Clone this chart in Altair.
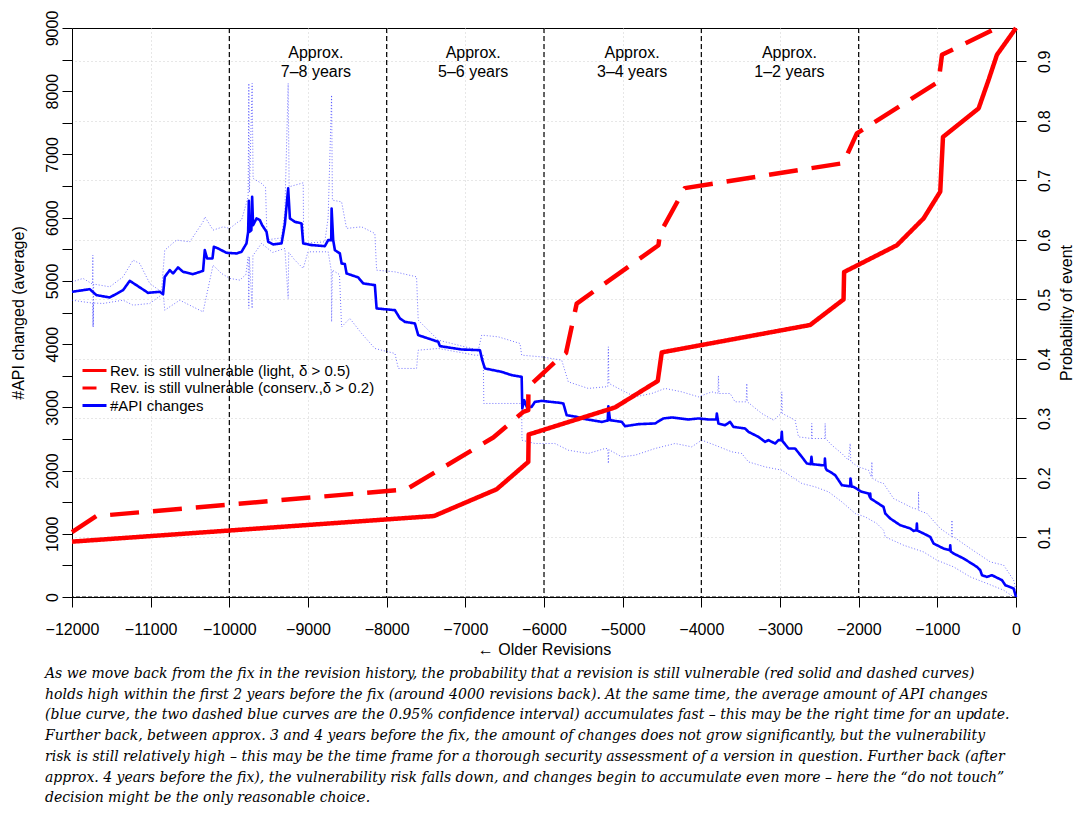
import altair as alt
import pandas as pd

# ---------------- data ----------------
# average #API changes (blue solid)
api_x = [-12000, -11775, -11690, -11520, -11351, -11266, -11117, -11033, -10884, -10842,
         -10821, -10757, -10715, -10652, -10588, -10461, -10334, -10312, -10283, -10214,
         -10197, -10143, -10036, -9909, -9845, -9782, -9761, -9752, -9745, -9720,
         -9710, -9698, -9654, -9612, -9583, -9527, -9506, -9443, -9336, -9294,
         -9252, -9230, -9167, -9082, -9061, -8955, -8786, -8744, -8705, -8700,
         -8680, -8658, -8595, -8573, -8531, -8510, -8362, -8298, -8150, -8128,
         -7895, -7831, -7768, -7641, -7599, -7471, -7344, -7323, -7047, -6814,
         -6785, -6751, -6538, -6411, -6284, -6276, -6251, -6220, -6157, -6115,
         -6030, -5797, -5754, -5712, -5584, -5521, -5267, -5190, -5182, -5161,
         -5012, -4970, -4800, -4588, -4482, -4376, -4164, -4037, -3910, -3810,
         -3803, -3783, -3698, -3634, -3592, -3443, -3401, -3274, -3189, -3147,
         -3062, -3020, -2985, -2977, -2970, -2892, -2808, -2723, -2659, -2610,
         -2600, -2590, -2468, -2432, -2429, -2420, -2405, -2362, -2298, -2214,
         -2130, -2108, -2104, -2090, -2066, -1960, -1875, -1858, -1853, -1848,
         -1684, -1662, -1599, -1472, -1344, -1302, -1265, -1260, -1255, -1217,
         -1090, -1048, -921, -840, -836, -830, -793, -666, -496, -454,
         -433, -369, -306, -178, -136, -30, 0]
api_y = [4827, 4869, 4775, 4738, 4853, 5001, 4880, 4811, 4827, 4790,
         5064, 5170, 5118, 5213, 5143, 5107, 5159, 5486, 5355, 5355,
         5539, 5513, 5444, 5434, 5460, 5593, 5776, 6267, 5776, 5800,
         6330, 5882, 5988, 5961, 5882, 5776, 5618, 5577, 5593, 5898,
         6463, 5988, 5934, 5909, 5593, 5566, 5550, 5645, 5645, 6146,
         5645, 5486, 5434, 5276, 5265, 5118, 5055, 4960, 4933, 4564,
         4537, 4406, 4352, 4327, 4142, 4089, 4036, 3968, 3915, 3904,
         3746, 3615, 3561, 3509, 3482, 2982, 3113, 3008, 3008, 3087,
         3102, 3071, 3061, 2876, 2849, 2824, 2770, 2790, 3018, 2797,
         2770, 2702, 2734, 2745, 2824, 2840, 2808, 2824, 2808, 2808,
         2903, 2745, 2718, 2770, 2691, 2665, 2612, 2533, 2454, 2481,
         2428, 2481, 2481, 2612, 2470, 2349, 2349, 2217, 2112, 2101,
         2217, 2101, 2085, 2085, 2190, 2040, 2006, 1979, 1927, 1769,
         1753, 1753, 1875, 1745, 1742, 1663, 1637, 1580, 1637, 1558,
         1425, 1321, 1242, 1136, 1084, 1046, 1057, 1163, 1050, 1030,
         951, 846, 767, 740, 819, 720, 688, 609, 476, 424,
         345, 318, 345, 266, 187, 134, 0]

# upper confidence bound (blue dotted)
up_x = [-12000, -11860, -11740, -11735, -11730, -11725, -11520, -11351, -11224, -11139,
        -11012, -10863, -10821, -10672, -10503, -10334, -10310, -10207, -10079, -9994,
        -9888, -9845, -9761, -9752, -9745, -9710, -9698, -9591, -9540, -9520,
        -9336, -9294, -9252, -9240, -9061, -9055, -8786, -8744, -8700, -8690,
        -8573, -8510, -8319, -8150, -8128, -7895, -7620, -7599, -7344, -6835,
        -6792, -6581, -6305, -6284, -6030, -5775, -5691, -5437, -5224, -5190,
        -5182, -5175, -5012, -4842, -4630, -4461, -4249, -4037, -3867, -3790,
        -3783, -3775, -3634, -3571, -3430, -3422, -3415, -3232, -3083, -2985,
        -2977, -2970, -2808, -2765, -2600, -2596, -2590, -2430, -2426, -2420,
        -2341, -2214, -2130, -2108, -2100, -2002, -1875, -1840, -1832, -1825,
        -1747, -1684, -1556, -1302, -1240, -1239, -1235, -1132, -963, -820,
        -814, -808, -793, -581, -454, -327, -157, -30, 0]
up_y = [4985, 5039, 4950, 5407, 4273, 4950, 4906, 5064, 5328, 5276,
        4960, 4827, 5486, 5645, 5618, 5934, 6013, 5803, 5855, 5830,
        5934, 5961, 6330, 8124, 6400, 8124, 6621, 6542, 6480, 5650,
        5680, 6100, 8124, 6488, 6551, 5593, 5618, 6000, 7939, 6277,
        6250, 5830, 5855, 5750, 5170, 5143, 5064, 4379, 4063, 3904,
        4142, 4115, 4010, 3825, 3798, 3746, 3403, 3299, 3324, 3324,
        3957, 3378, 3272, 3166, 3219, 3299, 3245, 3166, 3245, 3219,
        3500, 3219, 3219, 3087, 3087, 3378, 3087, 2903, 2797, 2903,
        3245, 2903, 2797, 2533, 2507, 2745, 2507, 2507, 2745, 2507,
        2401, 2270, 2164, 2428, 2140, 2058, 2006, 1900, 2137, 1880,
        1821, 1796, 1558, 1400, 1390, 1663, 1370, 1321, 1084, 960,
        1215, 950, 951, 767, 661, 555, 503, 266, 108]

# lower confidence bound (blue dotted)
lo_x = [-12000, -11860, -11740, -11733, -11726, -11605, -11351, -11224, -11012, -10840,
        -10821, -10630, -10461, -10334, -10207, -10100, -9994, -9867, -9790, -9761,
        -9752, -9745, -9710, -9700, -9591, -9450, -9294, -9252, -9245, -9167,
        -9061, -9000, -8744, -8705, -8700, -8690, -8600, -8573, -8468, -8319,
        -8150, -7895, -7852, -7620, -7599, -7344, -6878, -6772, -6765, -6284,
        -6280, -6115, -5861, -5691, -5437, -5224, -5190, -5182, -5175, -5012,
        -4842, -4588, -4334, -4122, -3995, -3825, -3613, -3486, -3401, -3189,
        -2977, -2723, -2553, -2383, -2214, -2044, -1917, -1769, -1684, -1662,
        -1429, -1175, -1005, -793, -581, -369, -157, -30]
lo_y = [4695, 4669, 4650, 4273, 4650, 4643, 4695, 4616, 4643, 4800,
        4537, 4695, 4589, 4510, 5249, 5118, 5039, 5012, 5100, 5380,
        4564, 5380, 4564, 5400, 5593, 5450, 5513, 4722, 5450, 5328,
        5197, 5460, 5460, 5170, 4352, 5170, 5100, 4273, 4406, 4169,
        3931, 3852, 3615, 3615, 3904, 3931, 3825, 3825, 3061, 3061,
        2480, 2428, 2428, 2322, 2270, 2349, 2349, 2112, 2330, 2217,
        2243, 2349, 2428, 2375, 2481, 2401, 2296, 2270, 2137, 2058,
        2006, 1796, 1742, 1663, 1505, 1321, 1267, 1163, 1057, 951,
        819, 713, 582, 476, 318, 214, 108, 0]

# probability a revision is still vulnerable (right axis)
light_x = [-12000, -7399, -6602, -6200, -6195, -5097, -4554, -4503, -2617, -2192,
           -2185, -1514, -1175, -963, -928, -475, -348, -242, 0]
light_p = [0.093, 0.136, 0.181, 0.227, 0.273, 0.3185, 0.363, 0.411, 0.457, 0.500,
           0.546, 0.591, 0.636, 0.681, 0.773, 0.821, 0.869, 0.911, 0.956]
cons_x = [-12000, -11690, -7746, -6645, -6263, -6200, -6198, -5818, -5720, -5584,
          -4545, -4525, -4210, -2192, -2130, -2023, -984, -941, -242]
cons_p = [0.109, 0.136, 0.181, 0.268, 0.311, 0.314, 0.353, 0.400, 0.410, 0.493,
          0.591, 0.611, 0.687, 0.729, 0.748, 0.779, 0.866, 0.911, 0.956]

series_names = ["Rev. is still vulnerable (light, δ > 0.5)",
                "Rev. is still vulnerable (conserv.,δ > 0.2)",
                "#API changes"]
series_colors = ["#ff0000", "#ff0000", "#0000ff"]

year_x = [-10000, -8000, -6000, -4000, -2000]
ann_x = [-8900, -6900, -4880, -2880]
ann_y = [8727, 8727, 8727, 8727]
ann_text = ["Approx.\n7–8 years", "Approx.\n5–6 years", "Approx.\n3–4 years", "Approx.\n1–2 years"]

x_ticks = list(range(-12000, 1, 1000))
left_ticks = list(range(0, 9001, 500))
right_ticks = [0.1, 0.2, 0.3, 0.4, 0.5, 0.6, 0.7, 0.8, 0.9]

caption_lines = [
    "As we move back from the fix in the revision history, the probability that a revision is still vulnerable (red solid and dashed curves)",
    "holds high within the first 2 years before the fix (around 4000 revisions back). At the same time, the average amount of API changes",
    "(blue curve, the two dashed blue curves are the 0.95% confidence interval) accumulates fast – this may be the right time for an update.",
    "Further back, between approx. 3 and 4 years before the fix, the amount of changes does not grow significantly, but the vulnerability",
    "risk is still relatively high – this may be the time frame for a thorough security assessment of a version in question. Further back (after",
    "approx. 4 years before the fix), the vulnerability risk falls down, and changes begin to accumulate even more – here the “do not touch”",
    "decision might be the only reasonable choice.",
]

# ---------------- tables ----------------
main_df = pd.DataFrame({"x": api_x, "y": api_y, "series": series_names[2], "i": range(len(api_x))})
ci_df = pd.concat([
    pd.DataFrame({"x": up_x, "y": up_y, "band": "upper", "i": range(len(up_x))}),
    pd.DataFrame({"x": lo_x, "y": lo_y, "band": "lower", "i": range(len(lo_x))}),
])
red_df = pd.concat([
    pd.DataFrame({"x": light_x, "p": light_p, "series": series_names[0], "i": range(len(light_x))}),
    pd.DataFrame({"x": cons_x, "p": cons_p, "series": series_names[1], "i": range(len(cons_x))}),
])
year_df = pd.DataFrame({"x": year_x})
zero_df = pd.DataFrame({"y": [0]})
ann_df = pd.DataFrame({"x": ann_x, "y": ann_y, "t": ann_text})

FONT = "Liberation Sans"

x_scale = alt.Scale(domain=[-12000, 0], nice=False, zero=False)
left_scale = alt.Scale(domain=[0, 9000], nice=False)
right_scale = alt.Scale(domain=[0, 0.956], nice=False)

x_axis = alt.Axis(title="← Older Revisions", values=x_ticks, format="d",
                  domain=False, tickSize=10, tickColor="black", labelFontSize=16,
                  labelColor="black", labelPadding=14, titleFontSize=16,
                  titleFontWeight="normal", titleColor="black", titlePadding=4,
                  grid=True, gridColor="#cfcfcf", gridDash=[1, 3], labelFont=FONT,
                  titleFont=FONT, labelFlush=False)
left_axis = alt.Axis(title="#API changed (average)", values=left_ticks, format="d",
                     labelExpr="datum.value % 1000 == 0 ? datum.label : ''",
                     labelAngle=270, labelAlign="center", labelBaseline="bottom",
                     labelPadding=2, tickSize=10, tickColor="black", domainColor="black",
                     grid=False, labelFontSize=16, labelColor="black", titleFontSize=16,
                     titleFontWeight="normal", titleColor="black", titlePadding=18,
                     labelFont=FONT, titleFont=FONT, labelFlush=False)
right_axis = alt.Axis(title="Probability of event", orient="right", values=right_ticks,
                      format=".1f", labelAngle=270, labelAlign="center", labelBaseline="top",
                      labelPadding=10, tickSize=10, tickColor="black", domainColor="black",
                      grid=True, gridColor="#cfcfcf", gridDash=[1, 3],
                      labelFontSize=16, labelColor="black", titleFontSize=16,
                      titleFontWeight="normal", titleColor="black", titleAngle=270,
                      titleBaseline="top", titlePadding=6, labelFont=FONT, titleFont=FONT,
                      labelFlush=False)

color_scale = alt.Scale(domain=series_names, range=series_colors)
dash_scale = alt.Scale(domain=series_names, range=[[1, 0], [29, 14], [1, 0]])
legend = alt.Legend(title=None, orient="none", legendX=15, legendY=335,
                    symbolType="M-2,0L2,0", symbolSize=144, symbolStrokeWidth=3,
                    symbolDashOffset=15,
                    labelFontSize=15, labelFont=FONT, labelColor="black",
                    rowPadding=1.5, labelOffset=8, padding=0, labelLimit=0)

X = alt.X("x:Q", scale=x_scale, axis=x_axis)

years = alt.Chart(year_df).mark_rule(color="black", strokeDash=[5, 3], strokeWidth=1.2).encode(x=X)
zero = alt.Chart(zero_df).mark_rule(color="black", strokeDash=[4, 2], strokeWidth=1).encode(
    y=alt.Y("y:Q", scale=left_scale, axis=left_axis))
ci = alt.Chart(ci_df).mark_line(color="#0000ff", opacity=0.55, strokeWidth=1,
                                strokeDash=[1, 2], interpolate="linear").encode(
    x=X, y=alt.Y("y:Q", scale=left_scale, axis=left_axis), detail="band:N", order="i:Q")
main = alt.Chart(main_df).mark_line(strokeWidth=2.6, strokeJoin="round").encode(
    x=X, y=alt.Y("y:Q", scale=left_scale, axis=left_axis),
    color=alt.Color("series:N", scale=color_scale, legend=legend),
    strokeDash=alt.StrokeDash("series:N", scale=dash_scale, legend=legend),
    order="i:Q")
ann = alt.Chart(ann_df).mark_text(fontSize=16, font=FONT, align="center", baseline="top",
                                  lineBreak="\n", lineHeight=19, color="black").encode(
    x=X, y=alt.Y("y:Q", scale=left_scale, axis=left_axis), text="t:N")

left = alt.layer(years, zero, ci, main, ann)

red = alt.Chart(red_df).mark_line(strokeWidth=4.5, strokeCap="butt", strokeJoin="round").encode(
    x=X, y=alt.Y("p:Q", scale=right_scale, axis=right_axis),
    color=alt.Color("series:N", scale=color_scale, legend=legend),
    strokeDash=alt.StrokeDash("series:N", scale=dash_scale, legend=legend),
    detail="series:N", order="i:Q")

chart = alt.layer(left, red).resolve_scale(y="independent").properties(
    width=944, height=569,
    autosize=alt.AutoSizeParams(type="none"),
    padding={"left": 64, "top": 20, "right": 58, "bottom": 211},
    title=alt.TitleParams(text=caption_lines, orient="bottom", anchor="start", frame="group",
                          dx=-27, offset=10, font="DejaVu Serif", fontStyle="italic",
                          fontWeight="normal", fontSize=14, lineHeight=20.7, color="black"),
).configure_view(stroke="black", strokeWidth=1)

chart.save("out.html", embed_options={"renderer": "svg", "actions": False})
